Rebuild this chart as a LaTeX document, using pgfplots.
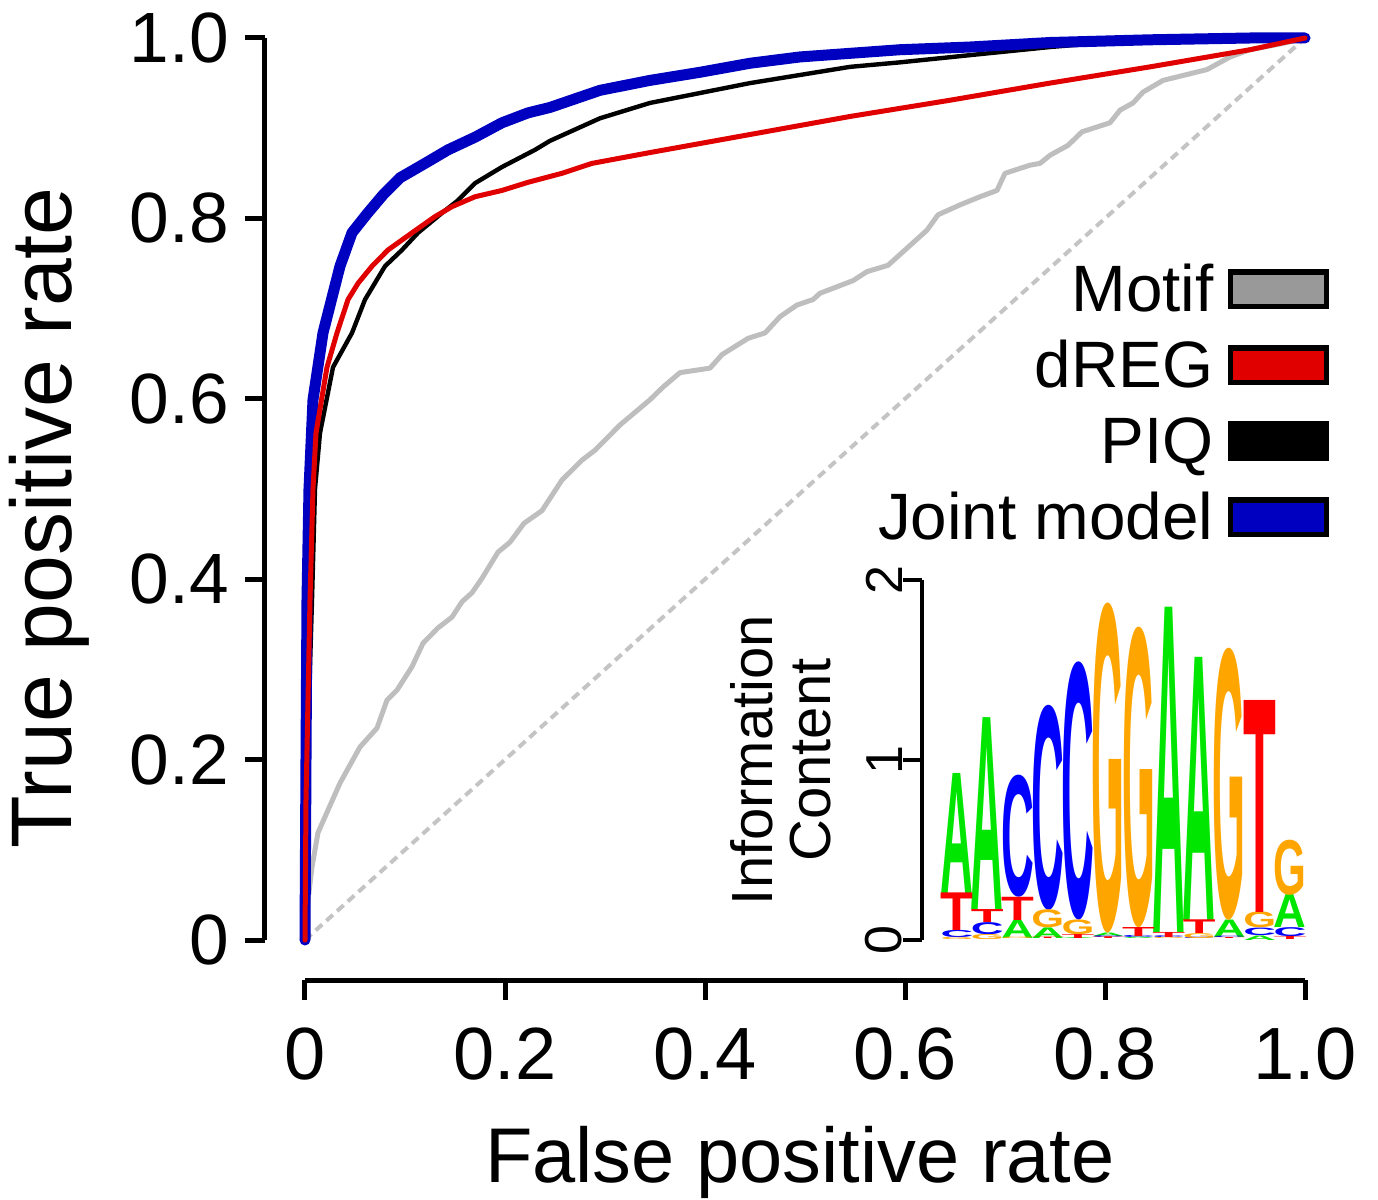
\documentclass[border=0pt]{standalone}
\usepackage{fontspec}
\setmainfont{Liberation Sans}
\usepackage{graphicx}
\usepackage{pgfplots}
\usepackage{pgfplotstable}
\pgfplotsset{compat=1.18}

\definecolor{jointblue}{HTML}{0000C0}
\definecolor{dregred}{HTML}{E00000}
\definecolor{motifgray}{HTML}{BEBEBE}
\definecolor{diaggray}{HTML}{C4C4C4}
\definecolor{motifbox}{HTML}{999999}
\definecolor{logoA}{HTML}{00E600}
\definecolor{logoC}{HTML}{0000FF}
\definecolor{logoG}{HTML}{FFA500}
\definecolor{logoT}{HTML}{FF0000}

% sequence logo: column, bottom of letter, letter height (bits)
\pgfplotstableread{
x y0 h
1 0.261 0.667
2 0.167 1.066
3 0.008 0.102
4 0.008 0.059
5 0.000 0.006
6 0.020 0.019
7 0.000 0.008
8 0.044 1.806
9 0.111 1.461
10 0.014 0.097
11 0.000 0.025
12 0.067 0.183
}\logoAtab
\pgfplotstableread{
x y0 h
1 0.012 0.040
2 0.028 0.067
3 0.239 0.678
4 0.167 1.139
5 0.110 1.434
6 0.010 0.010
7 0.008 0.012
8 0.006 0.010
9 0.000 0.008
10 0.006 0.008
11 0.025 0.042
12 0.017 0.050
}\logoCtab
\pgfplotstableread{
x y0 h
1 0.000 0.012
2 0.000 0.028
3 0.000 0.008
4 0.067 0.100
5 0.028 0.082
6 0.039 1.833
7 0.070 1.669
8 0.000 0.006
9 0.008 0.027
10 0.111 1.511
11 0.067 0.088
12 0.250 0.306
}\logoGtab
\pgfplotstableread{
x y0 h
1 0.052 0.209
2 0.095 0.072
3 0.110 0.129
4 0.000 0.008
5 0.006 0.022
6 0.000 0.010
7 0.020 0.050
8 0.016 0.028
9 0.035 0.076
10 0.000 0.006
11 0.155 1.178
12 0.000 0.017
}\logoTtab

\pgfplotsset{
  logoletter/.style 2 args={draw=none, mark=none, forget plot,
    visualization depends on={45*\thisrow{h} \as \lh},
    nodes near coords={\resizebox*{8.2pt}{\lh pt}{\bfseries #1}},
    every node near coord/.append style={anchor=south, inner sep=0pt, outer sep=0pt, text=#2}},
}

\begin{document}
\begin{tikzpicture}
\useasboundingbox (-76.25pt,-64.75pt) rectangle (268.25pt,235pt);
\begin{axis}[
  scale only axis,
  width=250pt, height=225.5pt,
  xmin=0, xmax=1, ymin=0, ymax=1,
  clip=false,
  axis x line*=bottom, axis y line*=left,
  axis x line shift=10pt, axis y line shift=10pt,
  axis line style={-, line width=1.25pt},
  tick align=outside, major tick length=5pt,
  tick style={line width=1.25pt, black},
  xtick={0,0.2,0.4,0.6,0.8,1}, ytick={0,0.2,0.4,0.6,0.8,1},
  xticklabels={0,0.2,0.4,0.6,0.8,1.0},
  yticklabels={0,0.2,0.4,0.6,0.8,1.0},
  xticklabel style={yshift=-3.5pt, font=\fontsize{18.5}{20}\selectfont},
  yticklabel style={xshift=-0.5pt, font=\fontsize{17.8}{20}\selectfont},
  xlabel={False positive rate},
  ylabel={True positive rate},
  xlabel style={font=\fontsize{19.4}{22}\selectfont, at={(axis description cs:0.495,-0.269)}, anchor=base},
  ylabel style={font=\fontsize{21.5}{24}\selectfont, at={(axis description cs:-0.233,0.468)}, anchor=base},
  legend plot pos=right,
  legend image code/.code={\draw[#1, draw=black, line width=1.4pt] (0pt,-1.75pt) rectangle (24pt,6.95pt);},
  legend style={at={(axis cs:1.025,0.753)}, anchor=north east, draw=none, fill=none,
    inner sep=0pt, row sep=0pt, /tikz/column sep=3.5pt,
    font=\fontsize{16.4}{18}\selectfont,
    nodes={inner sep=0pt, text height=12.5pt, text depth=6.5pt},
    cells={anchor=east}},
]
% chance line
\addplot[diaggray, line width=1pt, dash pattern=on 2.2pt off 1.4pt, forget plot]
  coordinates {(0,0) (1,1)};
% Motif
\addplot[motifgray, line width=1.25pt, line join=round, forget plot] coordinates {
(0,0) (0.003,0.044) (0.007,0.081) (0.013,0.119) (0.023,0.144) (0.035,0.174)
(0.055,0.214) (0.072,0.235) (0.082,0.266) (0.092,0.277) (0.107,0.303) (0.118,0.329)
(0.133,0.346) (0.147,0.358) (0.157,0.375) (0.167,0.385) (0.177,0.401) (0.193,0.430)
(0.205,0.441) (0.219,0.462) (0.237,0.476) (0.257,0.510) (0.277,0.532) (0.290,0.543)
(0.315,0.571) (0.345,0.599) (0.358,0.613) (0.375,0.629) (0.405,0.634) (0.417,0.649)
(0.443,0.667) (0.460,0.673) (0.475,0.691) (0.492,0.704) (0.508,0.710) (0.515,0.717)
(0.548,0.731) (0.562,0.741) (0.583,0.748) (0.622,0.787) (0.633,0.804) (0.655,0.815)
(0.675,0.824) (0.692,0.831) (0.700,0.850) (0.725,0.859) (0.735,0.861) (0.745,0.870)
(0.763,0.881) (0.777,0.896) (0.805,0.906) (0.815,0.920) (0.828,0.928) (0.838,0.940)
(0.858,0.953) (0.902,0.965) (0.925,0.979) (0.945,0.987) (0.978,0.994) (1,1)};
% PIQ
\addplot[black, line width=1.1pt, line join=round, forget plot] coordinates {
(0,0) (0.002,0.155) (0.004,0.266) (0.007,0.377) (0.010,0.500) (0.015,0.562)
(0.028,0.635) (0.047,0.673) (0.060,0.710) (0.080,0.747) (0.097,0.765) (0.113,0.784)
(0.137,0.806) (0.153,0.820) (0.170,0.839) (0.197,0.857) (0.230,0.876) (0.245,0.886)
(0.295,0.911) (0.345,0.928) (0.395,0.939) (0.445,0.950) (0.495,0.959) (0.545,0.968)
(0.595,0.973) (0.665,0.981) (0.745,0.990) (0.800,0.995) (0.900,0.998) (1,1)};
% Joint model
\addplot[jointblue, line width=2.75pt, line join=round, line cap=round, forget plot] coordinates {
(0,0) (0.001,0.200) (0.002,0.377) (0.004,0.500) (0.008,0.599) (0.018,0.673)
(0.035,0.747) (0.047,0.784) (0.062,0.805) (0.078,0.826) (0.095,0.845) (0.120,0.861)
(0.143,0.876) (0.170,0.890) (0.197,0.906) (0.223,0.917) (0.245,0.923) (0.295,0.942)
(0.345,0.953) (0.395,0.962) (0.445,0.972) (0.495,0.979) (0.545,0.983) (0.595,0.987)
(0.665,0.990) (0.745,0.995) (0.845,0.998) (0.945,1.000) (1,1)};
% dREG
\addplot[dregred, line width=1.25pt, line join=round, line cap=round, forget plot] coordinates {
(0,0) (0.001,0.155) (0.003,0.266) (0.005,0.377) (0.008,0.500) (0.011,0.562)
(0.022,0.635) (0.032,0.673) (0.043,0.710) (0.053,0.728) (0.067,0.747) (0.083,0.765)
(0.107,0.784) (0.130,0.802) (0.147,0.813) (0.170,0.824) (0.197,0.831) (0.223,0.840)
(0.257,0.850) (0.287,0.861) (0.345,0.873) (0.445,0.893) (0.545,0.913) (0.645,0.931)
(0.745,0.950) (0.845,0.968) (0.945,0.987) (1,1)};
\addlegendimage{fill=motifbox}
\addlegendentry{Motif}
\addlegendimage{fill=dregred}
\addlegendentry{dREG}
\addlegendimage{fill=black}
\addlegendentry{PIQ}
\addlegendimage{fill=jointblue}
\addlegendentry{Joint model}
\end{axis}

\begin{axis}[
  at={(159.25pt,0pt)}, anchor=south west,
  scale only axis,
  width=90.75pt, height=90pt,
  xmin=0.5, xmax=12.5, ymin=0, ymax=2,
  clip=false,
  axis x line=none, axis y line*=left,
  axis y line shift=5pt,
  axis line style={-, line width=1pt},
  tick align=outside, major tick length=4.75pt,
  tick style={line width=1pt, black},
  ytick={0,1,2}, yticklabels={0,1,2},
  yticklabel style={rotate=90, anchor=south, inner sep=0pt, font=\fontsize{13}{14}\selectfont},
  ylabel={Information\\Content},
  ylabel style={font=\fontsize{14.5}{14.5}\selectfont, align=center, inner sep=0pt,
    at={(axis description cs:-0.303,0.5)}, anchor=south},
]
\addplot[logoletter={A}{logoA}] table[x=x, y=y0] {\logoAtab};
\addplot[logoletter={C}{logoC}] table[x=x, y=y0] {\logoCtab};
\addplot[logoletter={G}{logoG}] table[x=x, y=y0] {\logoGtab};
\addplot[logoletter={T}{logoT}] table[x=x, y=y0] {\logoTtab};
\end{axis}
\end{tikzpicture}
\end{document}
